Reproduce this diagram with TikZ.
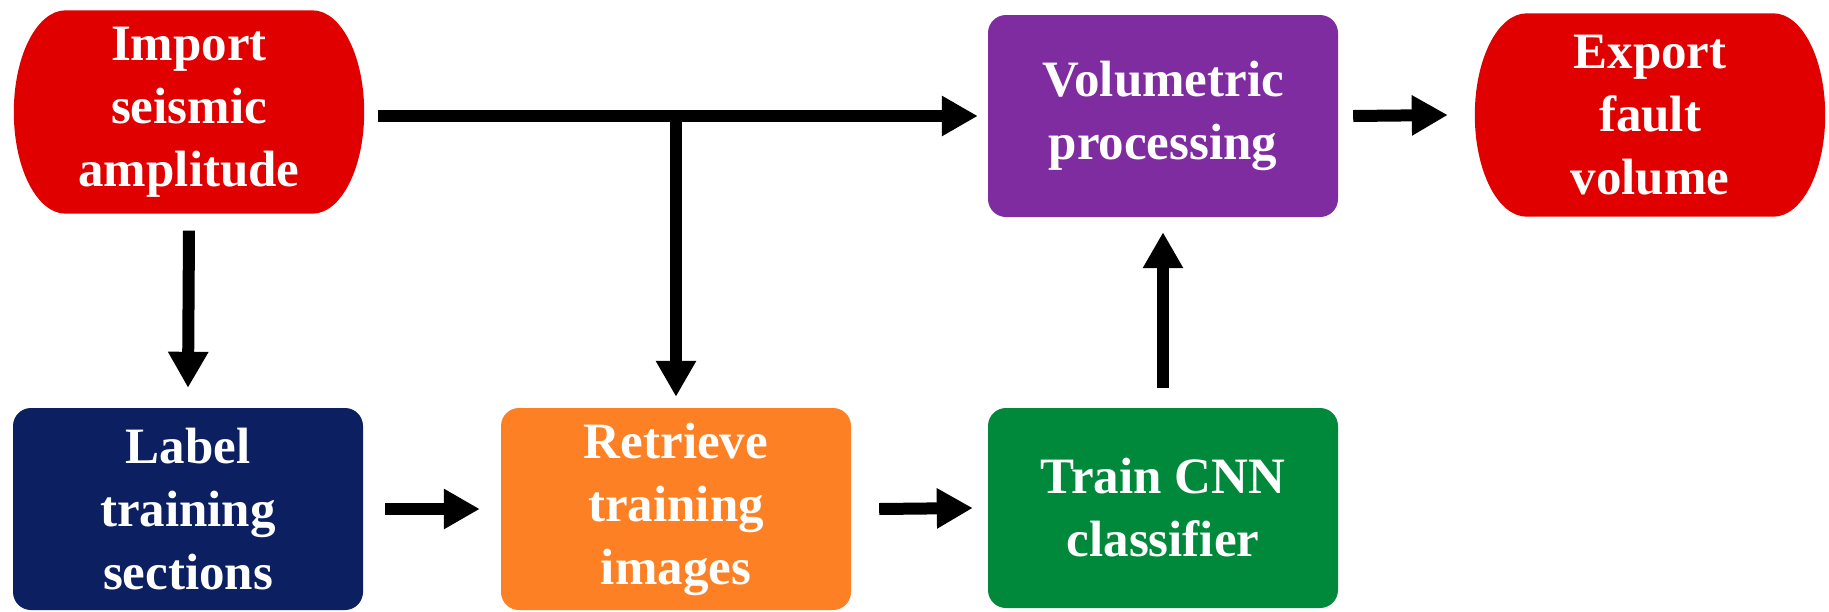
\documentclass[tikz,border=0pt]{standalone}
\usepackage{fontspec}
\setmainfont{Liberation Serif}
\usetikzlibrary{arrows.meta}
\pgfdeclarelayer{bg}
\pgfsetlayers{bg,main}
\definecolor{cred}{HTML}{E10000}
\definecolor{cnavy}{HTML}{0B1F61}
\definecolor{corange}{HTML}{FD8024}
\definecolor{cpurple}{HTML}{7E2CA0}
\definecolor{cgreen}{HTML}{00893A}
\tikzset{
  boxtext/.style={text=white, font=\fontsize{51}{63}\selectfont\bfseries, align=center, inner sep=0pt},
  procbox/.style={boxtext, rectangle, rounded corners=18pt, minimum width=350pt, minimum height=202pt},
  termbox/.style={boxtext, rectangle, minimum width=350pt, minimum height=203pt},
  flow/.style={line width=12pt, -{Triangle[length=36pt,width=38pt]}},
  flowline/.style={line width=12pt}
}
\newcommand{\termfill}[2]{%
  \begin{pgfonlayer}{bg}
  \fill[#2] ([xshift=-52pt]#1.north east) .. controls ([xshift=-23pt]#1.north east) and ([yshift=56pt]#1.east) .. (#1.east)
    .. controls ([yshift=-56pt]#1.east) and ([xshift=-23pt]#1.south east) .. ([xshift=-52pt]#1.south east)
    -- ([xshift=52pt]#1.south west) .. controls ([xshift=23pt]#1.south west) and ([yshift=-56pt]#1.west) .. (#1.west)
    .. controls ([yshift=56pt]#1.west) and ([xshift=23pt]#1.north west) .. ([xshift=52pt]#1.north west) -- cycle;
  \end{pgfonlayer}}
\begin{document}
\begin{tikzpicture}[x=1pt,y=-1pt]
\useasboundingbox (0,0) rectangle (1829,611);
\node[termbox] (imp) at (189,112) {Import\\seismic\\amplitude};
\node[termbox] (exp) at (1650,115) {Export\\fault\\volume};
\termfill{imp}{cred}
\termfill{exp}{cred}
\node[procbox, fill=cpurple] (vol) at (1163,116) {Volumetric\\processing};
\node[procbox, fill=cnavy] (lab) at (188,509) {Label\\training\\sections};
\node[procbox, fill=corange] (ret) at (676,509) {Retrieve\\training\\images};
\node[procbox, fill=cgreen, minimum height=200pt] (trn) at (1163,508) {Train CNN\\classifier};
\coordinate (j) at (ret.north |- vol.west);
\draw[flow] ([xshift=14pt]imp.east |- vol.west) -- ([xshift=-10pt]vol.west);
\draw[flowline] ([yshift=6pt]j) -- (j);
\draw[flow] (j) -- ([yshift=11pt]ret.north);
\draw[flow] ([yshift=-17pt]imp.south) -- ([yshift=20pt]lab.north);
\draw[flow] ([xshift=22pt]lab.east) -- ([xshift=-21pt]ret.west);
\draw[flow] ([xshift=28pt]ret.east) -- ([xshift=-15pt]trn.west);
\draw[flow] ([yshift=20pt]trn.north) -- ([yshift=-15pt]vol.south);
\draw[flow] ([xshift=15pt]vol.east) -- ([xshift=-27pt]exp.west);
\end{tikzpicture}
\end{document}
